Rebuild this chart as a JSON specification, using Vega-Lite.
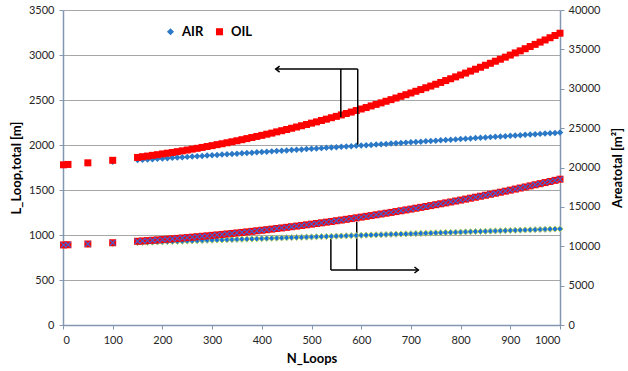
{
  "$schema": "https://vega.github.io/schema/vega-lite/v6.json",
  "width": 497,
  "height": 315,
  "autosize": {"type": "none"},
  "padding": {"left": 63, "top": 10, "right": 68, "bottom": 46},
  "config": {
    "font": "Lato",
    "view": {"stroke": null},
    "axis": {
      "labelFont": "Lato", "labelFontSize": 11, "labelColor": "#262626", "format": "d", "labelOverlap": false,
      "titleFont": "Lato", "titleFontSize": 13, "titleFontWeight": "bold", "titleColor": "#000000",
      "domainColor": "#8497b0", "domainWidth": 1.5, "tickColor": "#8497b0", "tickSize": 4,
      "gridColor": "#a6a6a6", "gridWidth": 1
    }
  },
  "data": {"values": [
    {"N":1,"AIR":1778,"OIL":1780,"AIR_A":10154,"OIL_A":10166},
    {"N":10,"AIR":1782,"OIL":1784,"AIR_A":10173,"OIL_A":10187},
    {"N":50,"AIR":1796,"OIL":1802,"AIR_A":10255,"OIL_A":10290},
    {"N":100,"AIR":1814,"OIL":1830,"AIR_A":10358,"OIL_A":10447},
    {"N":150,"AIR":1832,"OIL":1862,"AIR_A":10461,"OIL_A":10634},
    {"N":160,"AIR":1835.6,"OIL":1870,"AIR_A":10481,"OIL_A":10675},
    {"N":170,"AIR":1839.2,"OIL":1877,"AIR_A":10502,"OIL_A":10718},
    {"N":180,"AIR":1842.8,"OIL":1885,"AIR_A":10522,"OIL_A":10762},
    {"N":190,"AIR":1846.4,"OIL":1892.5,"AIR_A":10543,"OIL_A":10806},
    {"N":200,"AIR":1850,"OIL":1901,"AIR_A":10564,"OIL_A":10852},
    {"N":210,"AIR":1853.6,"OIL":1909,"AIR_A":10584,"OIL_A":10900},
    {"N":220,"AIR":1857.2,"OIL":1917,"AIR_A":10605,"OIL_A":10948},
    {"N":230,"AIR":1860.8,"OIL":1926,"AIR_A":10625,"OIL_A":10998},
    {"N":240,"AIR":1864.4,"OIL":1935,"AIR_A":10646,"OIL_A":11049},
    {"N":250,"AIR":1868,"OIL":1944,"AIR_A":10666,"OIL_A":11101},
    {"N":260,"AIR":1871.6,"OIL":1954,"AIR_A":10687,"OIL_A":11154},
    {"N":270,"AIR":1875.2,"OIL":1963,"AIR_A":10708,"OIL_A":11209},
    {"N":280,"AIR":1878.8,"OIL":1973,"AIR_A":10728,"OIL_A":11265},
    {"N":290,"AIR":1882.4,"OIL":1983,"AIR_A":10749,"OIL_A":11322},
    {"N":300,"AIR":1886,"OIL":1993,"AIR_A":10769,"OIL_A":11381},
    {"N":310,"AIR":1889.6,"OIL":2004,"AIR_A":10790,"OIL_A":11440},
    {"N":320,"AIR":1893.2,"OIL":2014,"AIR_A":10810,"OIL_A":11501},
    {"N":330,"AIR":1896.8,"OIL":2025,"AIR_A":10831,"OIL_A":11563},
    {"N":340,"AIR":1900.4,"OIL":2036,"AIR_A":10851,"OIL_A":11626},
    {"N":350,"AIR":1904,"OIL":2047,"AIR_A":10872,"OIL_A":11691},
    {"N":360,"AIR":1907.6,"OIL":2059,"AIR_A":10893,"OIL_A":11756},
    {"N":370,"AIR":1911.2,"OIL":2071,"AIR_A":10913,"OIL_A":11824},
    {"N":380,"AIR":1914.8,"OIL":2083,"AIR_A":10934,"OIL_A":11892},
    {"N":390,"AIR":1918.4,"OIL":2095,"AIR_A":10954,"OIL_A":11961},
    {"N":400,"AIR":1922,"OIL":2107,"AIR_A":10975,"OIL_A":12032},
    {"N":410,"AIR":1925.6,"OIL":2120,"AIR_A":10995,"OIL_A":12103},
    {"N":420,"AIR":1929.2,"OIL":2132,"AIR_A":11016,"OIL_A":12177},
    {"N":430,"AIR":1932.8,"OIL":2146,"AIR_A":11036,"OIL_A":12251},
    {"N":440,"AIR":1936.4,"OIL":2159,"AIR_A":11057,"OIL_A":12326},
    {"N":450,"AIR":1940,"OIL":2172,"AIR_A":11078,"OIL_A":12403},
    {"N":460,"AIR":1943.6,"OIL":2186,"AIR_A":11098,"OIL_A":12481},
    {"N":470,"AIR":1947.2,"OIL":2200,"AIR_A":11119,"OIL_A":12560},
    {"N":480,"AIR":1950.8,"OIL":2214,"AIR_A":11139,"OIL_A":12641},
    {"N":490,"AIR":1954.4,"OIL":2228,"AIR_A":11160,"OIL_A":12722},
    {"N":500,"AIR":1958,"OIL":2243,"AIR_A":11180,"OIL_A":12805},
    {"N":510,"AIR":1961.6,"OIL":2257,"AIR_A":11201,"OIL_A":12889},
    {"N":520,"AIR":1965.2,"OIL":2272,"AIR_A":11222,"OIL_A":12975},
    {"N":530,"AIR":1968.8,"OIL":2287,"AIR_A":11242,"OIL_A":13061},
    {"N":540,"AIR":1972.4,"OIL":2303,"AIR_A":11263,"OIL_A":13149},
    {"N":550,"AIR":1976,"OIL":2318,"AIR_A":11283,"OIL_A":13238},
    {"N":560,"AIR":1979.6,"OIL":2334,"AIR_A":11304,"OIL_A":13328},
    {"N":570,"AIR":1983.2,"OIL":2350,"AIR_A":11324,"OIL_A":13420},
    {"N":580,"AIR":1986.8,"OIL":2366,"AIR_A":11345,"OIL_A":13513},
    {"N":590,"AIR":1990.4,"OIL":2383,"AIR_A":11365,"OIL_A":13606},
    {"N":600,"AIR":1994,"OIL":2400,"AIR_A":11386,"OIL_A":13702},
    {"N":610,"AIR":1997.6,"OIL":2416,"AIR_A":11407,"OIL_A":13798},
    {"N":620,"AIR":2001.2,"OIL":2434,"AIR_A":11427,"OIL_A":13895},
    {"N":630,"AIR":2004.8,"OIL":2451,"AIR_A":11448,"OIL_A":13995},
    {"N":640,"AIR":2008.4,"OIL":2468,"AIR_A":11468,"OIL_A":14095},
    {"N":650,"AIR":2012,"OIL":2486,"AIR_A":11489,"OIL_A":14196},
    {"N":660,"AIR":2015.6,"OIL":2504,"AIR_A":11509,"OIL_A":14298},
    {"N":670,"AIR":2019.2,"OIL":2522,"AIR_A":11530,"OIL_A":14402},
    {"N":680,"AIR":2022.8,"OIL":2541,"AIR_A":11550,"OIL_A":14507},
    {"N":690,"AIR":2026.4,"OIL":2559,"AIR_A":11571,"OIL_A":14613},
    {"N":700,"AIR":2030,"OIL":2578,"AIR_A":11592,"OIL_A":14720},
    {"N":710,"AIR":2033.6,"OIL":2597,"AIR_A":11612,"OIL_A":14830},
    {"N":720,"AIR":2037.2,"OIL":2616,"AIR_A":11633,"OIL_A":14939},
    {"N":730,"AIR":2040.8,"OIL":2636,"AIR_A":11653,"OIL_A":15050},
    {"N":740,"AIR":2044.4,"OIL":2655,"AIR_A":11674,"OIL_A":15162},
    {"N":750,"AIR":2048,"OIL":2675,"AIR_A":11694,"OIL_A":15276},
    {"N":760,"AIR":2051.6,"OIL":2695,"AIR_A":11715,"OIL_A":15391},
    {"N":770,"AIR":2055.2,"OIL":2716,"AIR_A":11736,"OIL_A":15507},
    {"N":780,"AIR":2058.8,"OIL":2736,"AIR_A":11756,"OIL_A":15624},
    {"N":790,"AIR":2062.4,"OIL":2757,"AIR_A":11777,"OIL_A":15742},
    {"N":800,"AIR":2066,"OIL":2778,"AIR_A":11797,"OIL_A":15862},
    {"N":810,"AIR":2069.6,"OIL":2799,"AIR_A":11818,"OIL_A":15983},
    {"N":820,"AIR":2073.2,"OIL":2821,"AIR_A":11838,"OIL_A":16105},
    {"N":830,"AIR":2076.8,"OIL":2842,"AIR_A":11859,"OIL_A":16228},
    {"N":840,"AIR":2080.4,"OIL":2864,"AIR_A":11879,"OIL_A":16353},
    {"N":850,"AIR":2084,"OIL":2886,"AIR_A":11900,"OIL_A":16479},
    {"N":860,"AIR":2087.6,"OIL":2908,"AIR_A":11921,"OIL_A":16606},
    {"N":870,"AIR":2091.2,"OIL":2931,"AIR_A":11941,"OIL_A":16734},
    {"N":880,"AIR":2094.8,"OIL":2953,"AIR_A":11962,"OIL_A":16864},
    {"N":890,"AIR":2098.4,"OIL":2976,"AIR_A":11982,"OIL_A":16995},
    {"N":900,"AIR":2102,"OIL":2999,"AIR_A":12003,"OIL_A":17127},
    {"N":910,"AIR":2105.6,"OIL":3023,"AIR_A":12023,"OIL_A":17260},
    {"N":920,"AIR":2109.2,"OIL":3046,"AIR_A":12044,"OIL_A":17394},
    {"N":930,"AIR":2112.8,"OIL":3070,"AIR_A":12065,"OIL_A":17530},
    {"N":940,"AIR":2116.4,"OIL":3094,"AIR_A":12085,"OIL_A":17667},
    {"N":950,"AIR":2120,"OIL":3118,"AIR_A":12106,"OIL_A":17805},
    {"N":960,"AIR":2123.6,"OIL":3143,"AIR_A":12126,"OIL_A":17944},
    {"N":970,"AIR":2127.2,"OIL":3167,"AIR_A":12147,"OIL_A":18085},
    {"N":980,"AIR":2130.8,"OIL":3192,"AIR_A":12167,"OIL_A":18226},
    {"N":990,"AIR":2134.4,"OIL":3217,"AIR_A":12188,"OIL_A":18369},
    {"N":1000,"AIR":2138,"OIL":3242,"AIR_A":12208,"OIL_A":18514}
  ]},
  "layer": [
    {
      "layer": [
        {
          "mark": {"type": "point", "filled": true, "size": 42, "opacity": 1},
          "encoding": {
            "x": {"field": "N", "type": "quantitative", "scale": {"domain": [0, 1000], "nice": false},
                  "axis": {"title": "N_Loops", "values": [0,100,200,300,400,500,600,700,800,900,1000], "grid": false, "labelPadding": 5, "titlePadding": 7, "labelOverlap": false}},
            "y": {"field": "AIR", "type": "quantitative", "scale": {"domain": [0, 3500], "nice": false},
                  "axis": {"title": "L_Loop,total [m]", "values": [0,500,1000,1500,2000,2500,3000,3500], "grid": true, "labelPadding": 5, "titlePadding": 5, "labelOverlap": false}},
            "color": {"datum": "AIR", "scale": {"domain": ["AIR", "OIL"], "range": ["#2a78c6", "#ff0000"]},
                      "legend": {"orient": "none", "legendX": 101, "legendY": 15, "direction": "horizontal", "title": null,
                                 "labelFont": "Lato", "labelFontWeight": "bold", "labelFontSize": 13, "labelColor": "#000000",
                                 "symbolSize": 50, "labelOffset": 5, "columnPadding": 9, "padding": 0}},
            "shape": {"datum": "AIR", "scale": {"domain": ["AIR", "OIL"], "range": ["diamond", "square"]},
                      "legend": {"orient": "none", "legendX": 101, "legendY": 15, "direction": "horizontal", "title": null,
                                 "labelFont": "Lato", "labelFontWeight": "bold", "labelFontSize": 13, "labelColor": "#000000",
                                 "symbolSize": 50, "labelOffset": 5, "columnPadding": 9, "padding": 0}}
          }
        },
        {
          "mark": {"type": "point", "filled": true, "size": 49, "opacity": 1},
          "encoding": {
            "x": {"field": "N", "type": "quantitative",
                  "axis": {"title": "N_Loops", "values": [0,100,200,300,400,500,600,700,800,900,1000], "grid": false, "labelPadding": 5, "titlePadding": 7, "labelOverlap": false}},
            "y": {"field": "OIL", "type": "quantitative",
                  "axis": {"title": "L_Loop,total [m]", "values": [0,500,1000,1500,2000,2500,3000,3500], "grid": true, "labelPadding": 5, "titlePadding": 5, "labelOverlap": false}},
            "color": {"datum": "OIL"},
            "shape": {"datum": "OIL"}
          }
        },
        {
          "data": {"values": [
            {"x": 428, "x2": 593, "y": 2844, "y2": 2844},
            {"x": 559, "x2": 559, "y": 2844, "y2": 2310},
            {"x": 593, "x2": 593, "y": 2844, "y2": 2005},
            {"x": 539, "x2": 539, "y": 967, "y2": 611},
            {"x": 591, "x2": 591, "y": 1148, "y2": 611},
            {"x": 539, "x2": 715, "y": 611, "y2": 611}
          ]},
          "mark": {"type": "rule", "color": "#000000", "strokeWidth": 1.5},
          "encoding": {
            "x": {"field": "x", "type": "quantitative",
                  "axis": {"title": "N_Loops", "values": [0,100,200,300,400,500,600,700,800,900,1000], "grid": false, "labelPadding": 5, "titlePadding": 7, "labelOverlap": false}},
            "x2": {"field": "x2"},
            "y": {"field": "y", "type": "quantitative",
                  "axis": {"title": "L_Loop,total [m]", "values": [0,500,1000,1500,2000,2500,3000,3500], "grid": true, "labelPadding": 5, "titlePadding": 5, "labelOverlap": false}},
            "y2": {"field": "y2"}
          }
        },
        {
          "data": {"values": [{"x": 428, "y": 2844}]},
          "mark": {"type": "point", "shape": "M1.3,-1L0,0L1.3,1", "filled": false, "color": "#000000", "strokeWidth": 1.5, "size": 36, "opacity": 1},
          "encoding": {
            "x": {"field": "x", "type": "quantitative",
                  "axis": {"title": "N_Loops", "values": [0,100,200,300,400,500,600,700,800,900,1000], "grid": false, "labelPadding": 5, "titlePadding": 7, "labelOverlap": false}},
            "y": {"field": "y", "type": "quantitative",
                  "axis": {"title": "L_Loop,total [m]", "values": [0,500,1000,1500,2000,2500,3000,3500], "grid": true, "labelPadding": 5, "titlePadding": 5, "labelOverlap": false}}
          }
        },
        {
          "data": {"values": [{"x": 715, "y": 611}]},
          "mark": {"type": "point", "shape": "M-1.3,-1L0,0L-1.3,1", "filled": false, "color": "#000000", "strokeWidth": 1.5, "size": 36, "opacity": 1},
          "encoding": {
            "x": {"field": "x", "type": "quantitative",
                  "axis": {"title": "N_Loops", "values": [0,100,200,300,400,500,600,700,800,900,1000], "grid": false, "labelPadding": 5, "titlePadding": 7, "labelOverlap": false}},
            "y": {"field": "y", "type": "quantitative",
                  "axis": {"title": "L_Loop,total [m]", "values": [0,500,1000,1500,2000,2500,3000,3500], "grid": true, "labelPadding": 5, "titlePadding": 5, "labelOverlap": false}}
          }
        }
      ]
    },
    {
      "layer": [
        {
          "mark": {"type": "point", "shape": "diamond", "filled": true, "color": "#1a73d8", "stroke": "#b4cf63", "strokeWidth": 1, "size": 38, "opacity": 1},
          "encoding": {
            "x": {"field": "N", "type": "quantitative",
                  "axis": {"title": "N_Loops", "values": [0,100,200,300,400,500,600,700,800,900,1000], "grid": false, "labelPadding": 5, "titlePadding": 7, "labelOverlap": false}},
            "y": {"field": "AIR_A", "type": "quantitative", "scale": {"domain": [0, 40000], "nice": false},
                  "axis": {"orient": "right", "title": "Areatotal [m²]", "values": [0,5000,10000,15000,20000,25000,30000,35000,40000], "grid": false, "labelPadding": 4, "labelOverlap": false, "titlePadding": 12, "titleAngle": 270, "titleBaseline": "top"}}
          }
        },
        {
          "mark": {"type": "point", "shape": "square", "filled": true, "color": "#ff0000", "size": 49, "opacity": 1},
          "encoding": {
            "x": {"field": "N", "type": "quantitative",
                  "axis": {"title": "N_Loops", "values": [0,100,200,300,400,500,600,700,800,900,1000], "grid": false, "labelPadding": 5, "titlePadding": 7, "labelOverlap": false}},
            "y": {"field": "OIL_A", "type": "quantitative",
                  "axis": {"orient": "right", "title": "Areatotal [m²]", "values": [0,5000,10000,15000,20000,25000,30000,35000,40000], "grid": false, "labelPadding": 4, "labelOverlap": false, "titlePadding": 12, "titleAngle": 270, "titleBaseline": "top"}}
          }
        },
        {
          "mark": {"type": "point", "shape": "M-1,-1L1,1M-1,1L1,-1", "filled": false, "color": "#4a5ccc", "strokeWidth": 1.2, "size": 30, "opacity": 1},
          "encoding": {
            "x": {"field": "N", "type": "quantitative",
                  "axis": {"title": "N_Loops", "values": [0,100,200,300,400,500,600,700,800,900,1000], "grid": false, "labelPadding": 5, "titlePadding": 7, "labelOverlap": false}},
            "y": {"field": "OIL_A", "type": "quantitative",
                  "axis": {"orient": "right", "title": "Areatotal [m²]", "values": [0,5000,10000,15000,20000,25000,30000,35000,40000], "grid": false, "labelPadding": 4, "labelOverlap": false, "titlePadding": 12, "titleAngle": 270, "titleBaseline": "top"}}
          }
        }
      ]
    }
  ],
  "resolve": {"scale": {"y": "independent"}}
}
